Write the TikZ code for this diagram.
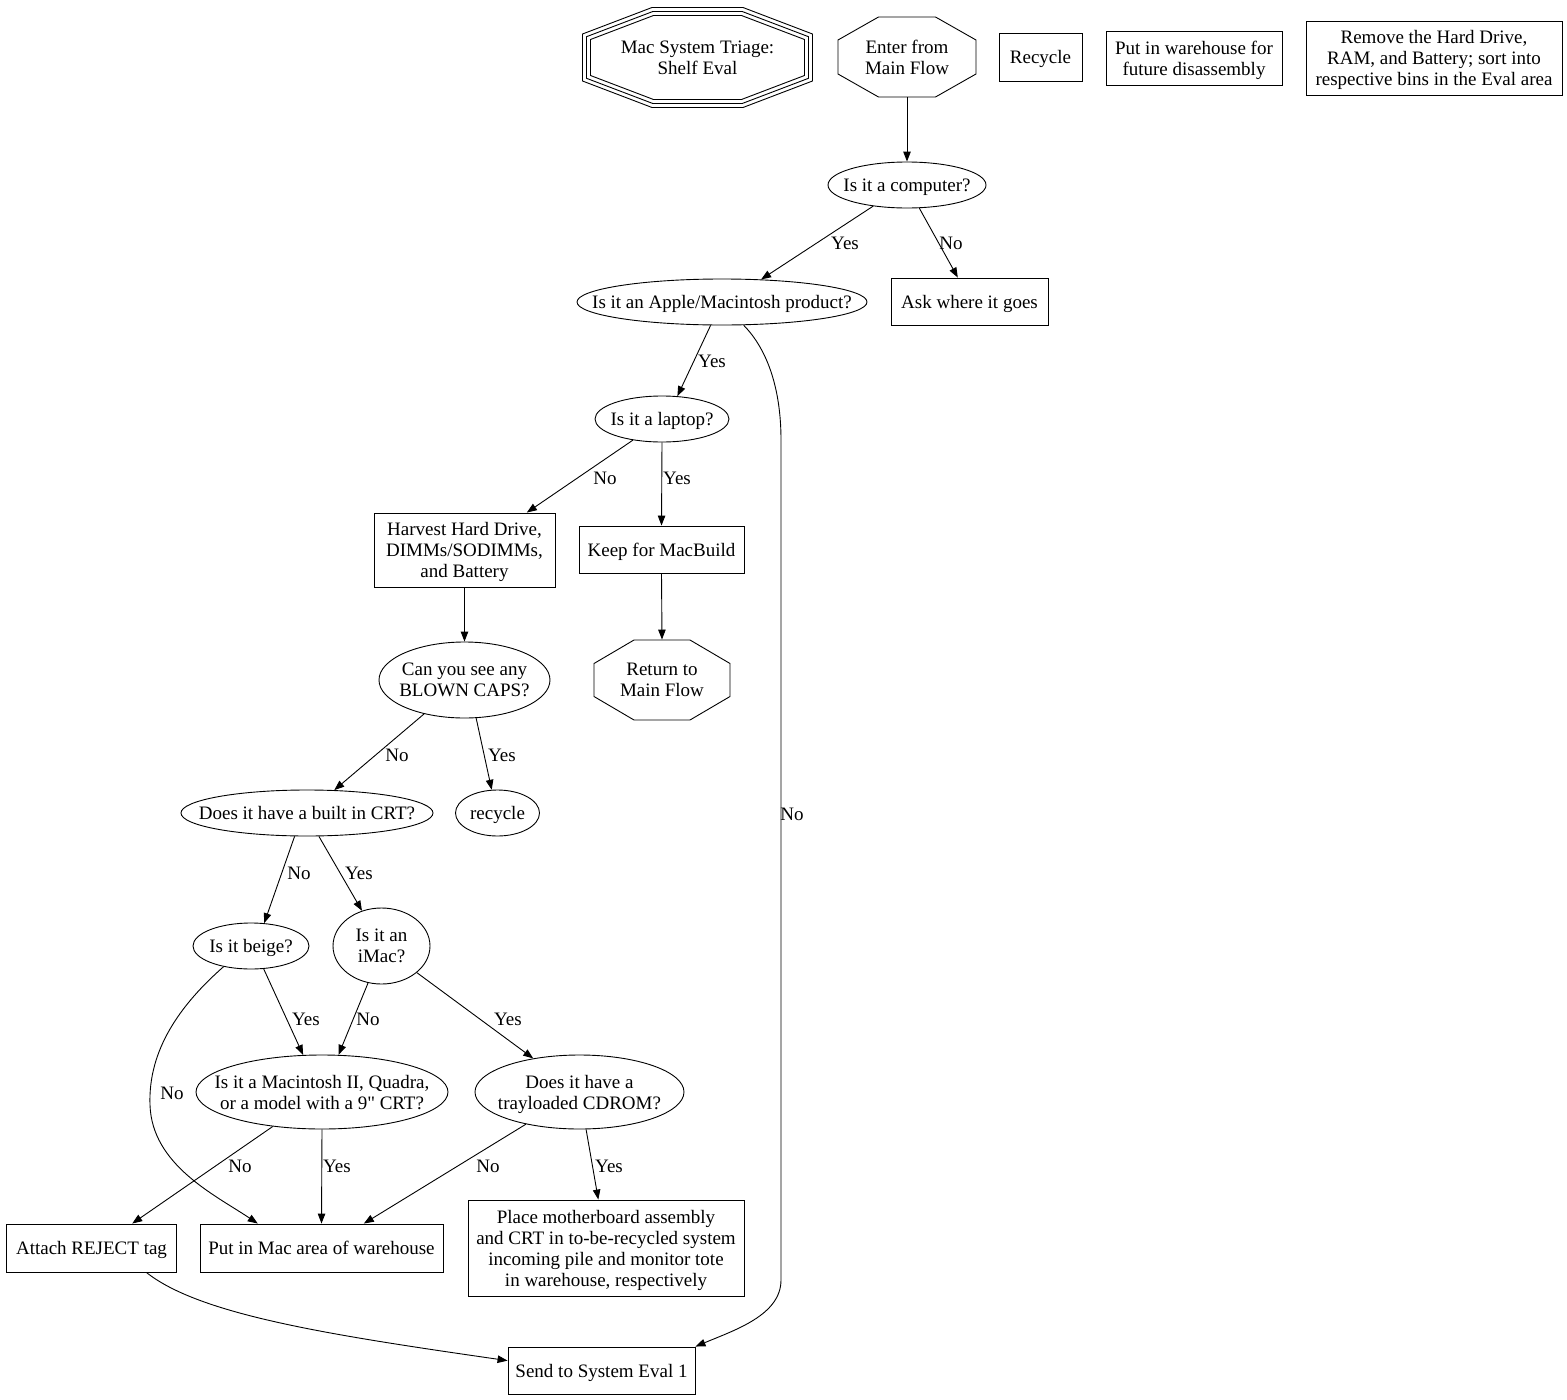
\documentclass[tikz,border=0pt]{standalone}
\usepackage{fontspec}
\setmainfont{Liberation Serif}[Ligatures=TeXOff]
\usetikzlibrary{shapes.geometric,arrows.meta}
\newcommand\octo[5]{%
 \draw ([shift={(-#2,-#3)}]#1.center) -- ([shift={(#2,-#3)}]#1.center) -- ([shift={(#4,-#5)}]#1.center) -- ([shift={(#4,#5)}]#1.center) -- ([shift={(#2,#3)}]#1.center) -- ([shift={(-#2,#3)}]#1.center) -- ([shift={(-#4,#5)}]#1.center) -- ([shift={(-#4,-#5)}]#1.center) -- cycle;}
\begin{document}
\begin{tikzpicture}[x=1pt,y=-1pt, line width=0.9pt,
  every node/.style={font=\fontsize{19}{21}\selectfont, align=center, inner sep=0pt, text depth=0pt},
  qn/.style={ellipse, draw, inner sep=-40pt},
  box/.style={rectangle, draw},
  oct/.style={rectangle, draw=none},
  lbl/.style={},
  arr/.style={-{Triangle[length=10pt,width=7.5pt]}}]
\useasboundingbox (0,0) rectangle (1567,1400);

% top row
\node[oct, minimum width=230, minimum height=100] (triage) at (697.5,57.5) {Mac System Triage:\\Shelf Eval};
\octo{triage}{44}{42}{107}{18}
\octo{triage}{44.7}{46}{111}{20.8}
\octo{triage}{45.5}{50}{115}{23.5}
\node[oct, minimum width=138, minimum height=80] (enter) at (907,57) {Enter from\\Main Flow};
\octo{enter}{28.5}{40}{69}{17}
\node[box, minimum width=83, minimum height=48] (recbox) at (1040.5,57) {Recycle};
\node[box, minimum width=176, minimum height=54] (wh) at (1194,58) {Put in warehouse for\\future disassembly};
\node[box, minimum width=256, minimum height=74] (remove) at (1434,58) {Remove the Hard Drive,\\RAM, and Battery; sort into\\respective bins in the Eval area};

% main flow
\node[qn, minimum width=158, minimum height=46] (computer) at (907,185) {Is it a computer?};
\node[qn, minimum width=290, minimum height=46] (apple) at (722,302) {Is it an Apple/Macintosh product?};
\node[box, minimum width=157, minimum height=47] (ask) at (969.5,301.5) {Ask where it goes};
\node[qn, minimum width=134, minimum height=46] (laptop) at (662,419) {Is it a laptop?};
\node[box, minimum width=181, minimum height=74] (harvest) at (464.5,550) {Harvest Hard Drive,\\DIMMs/SODIMMs,\\and Battery};
\node[box, minimum width=165, minimum height=47] (keep) at (661.5,549.5) {Keep for MacBuild};
\node[qn, minimum width=171, minimum height=76] (caps) at (464.5,680) {Can you see any\\BLOWN CAPS?};
\node[oct, minimum width=136, minimum height=80] (return) at (662,680) {Return to\\Main Flow};
\octo{return}{28}{40}{68}{16.5}
\node[qn, minimum width=252, minimum height=46] (crt) at (307,813) {Does it have a built in CRT?};
\node[qn, minimum width=84, minimum height=46] (recE) at (497.5,813) {recycle};
\node[qn, minimum width=116, minimum height=46] (beige) at (251,946) {Is it beige?};
\node[qn, minimum width=97, minimum height=76] (imac) at (381.5,946) {Is it an\\iMac?};
\node[qn, minimum width=252, minimum height=74] (mac2) at (322,1092) {Is it a Macintosh II, Quadra,\\or a model with a 9" CRT?};
\node[qn, minimum width=209, minimum height=74] (cdrom) at (579.5,1092) {Does it have a\\trayloaded CDROM?};
\node[box, minimum width=170, minimum height=48] (reject) at (91.5,1248) {Attach REJECT tag};
\node[box, minimum width=243, minimum height=48] (macarea) at (321.5,1248) {Put in Mac area of warehouse};
\node[box, minimum width=276, minimum height=96] (place) at (606,1248) {Place motherboard assembly\\and CRT in to-be-recycled system\\incoming pile and monitor tote\\in warehouse, respectively};
\node[box, minimum width=187, minimum height=47] (send) at (601.5,1370.5) {Send to System Eval 1};

% connectors
\draw[arr] (enter.south) -- (computer.north);
\draw[arr] (computer.212) -- (apple.30);
\draw[arr] (computer.298) -- (ask.116.6);
\draw[arr] (apple.244.4) -- (laptop.56.9);
\draw[arr] (apple.313.7) .. controls (768,350) and (781,390) .. (781,440) -- (781,1280) .. controls (781,1315) and (735,1330) .. (send.north east);
\draw[arr] (laptop.216.3) -- (harvest.31.7);
\draw[arr] (laptop.south) -- (keep.north);
\draw[arr] (harvest.south) -- (caps.north);
\draw[arr] (keep.south) -- (return.north);
\draw[arr] (caps.220.4) -- (crt.40.4);
\draw[arr] (caps.287.5) -- (recE.104.6);
\draw[arr] (crt.242.5) -- (beige.60.5);
\draw[arr] (crt.297.5) -- (imac.119.2);
\draw[arr] (beige.299.5) -- (mac2.117.2);
\draw[arr] (beige.217.2) .. controls (180,1005) and (148,1050) .. (150,1105) .. controls (152,1165) and (215,1195) .. (macarea.159.4);
\draw[arr] (imac.250.1) -- (mac2.66.6);
\draw[arr] (imac.323.4) -- (cdrom.144.1);
\draw[arr] (mac2.215) -- (reject.31.6);
\draw[arr] (mac2.south) -- (macarea.north);
\draw[arr] (cdrom.211.9) -- (macarea.30.3);
\draw[arr] (cdrom.280.7) -- (place.99.5);
\draw[arr] (reject.336.8) .. controls (200,1315) and (330,1335) .. (send.174.5);

% edge labels
\node[lbl] (l1) at (845,243) {Yes};
\node[lbl] (l2) at (951,243) {No};
\node[lbl] (l3) at (712,361) {Yes};
\node[lbl] (l4) at (792,814) {No};
\node[lbl] (l5) at (605,478) {No};
\node[lbl] (l6) at (677,478) {Yes};
\node[lbl] (l7) at (502,755) {Yes};
\node[lbl] (l8) at (397,755) {No};
\node[lbl] (l9) at (299,873) {No};
\node[lbl] (l10) at (359,873) {Yes};
\node[lbl] (l11) at (306,1019) {Yes};
\node[lbl] (l12) at (368,1019) {No};
\node[lbl] (l13) at (508,1019) {Yes};
\node[lbl] (l14) at (172,1093) {No};
\node[lbl] (l15) at (240,1166) {No};
\node[lbl] (l16) at (337,1166) {Yes};
\node[lbl] (l17) at (488,1166) {No};
\node[lbl] (l18) at (609,1166) {Yes};
\end{tikzpicture}
\end{document}
